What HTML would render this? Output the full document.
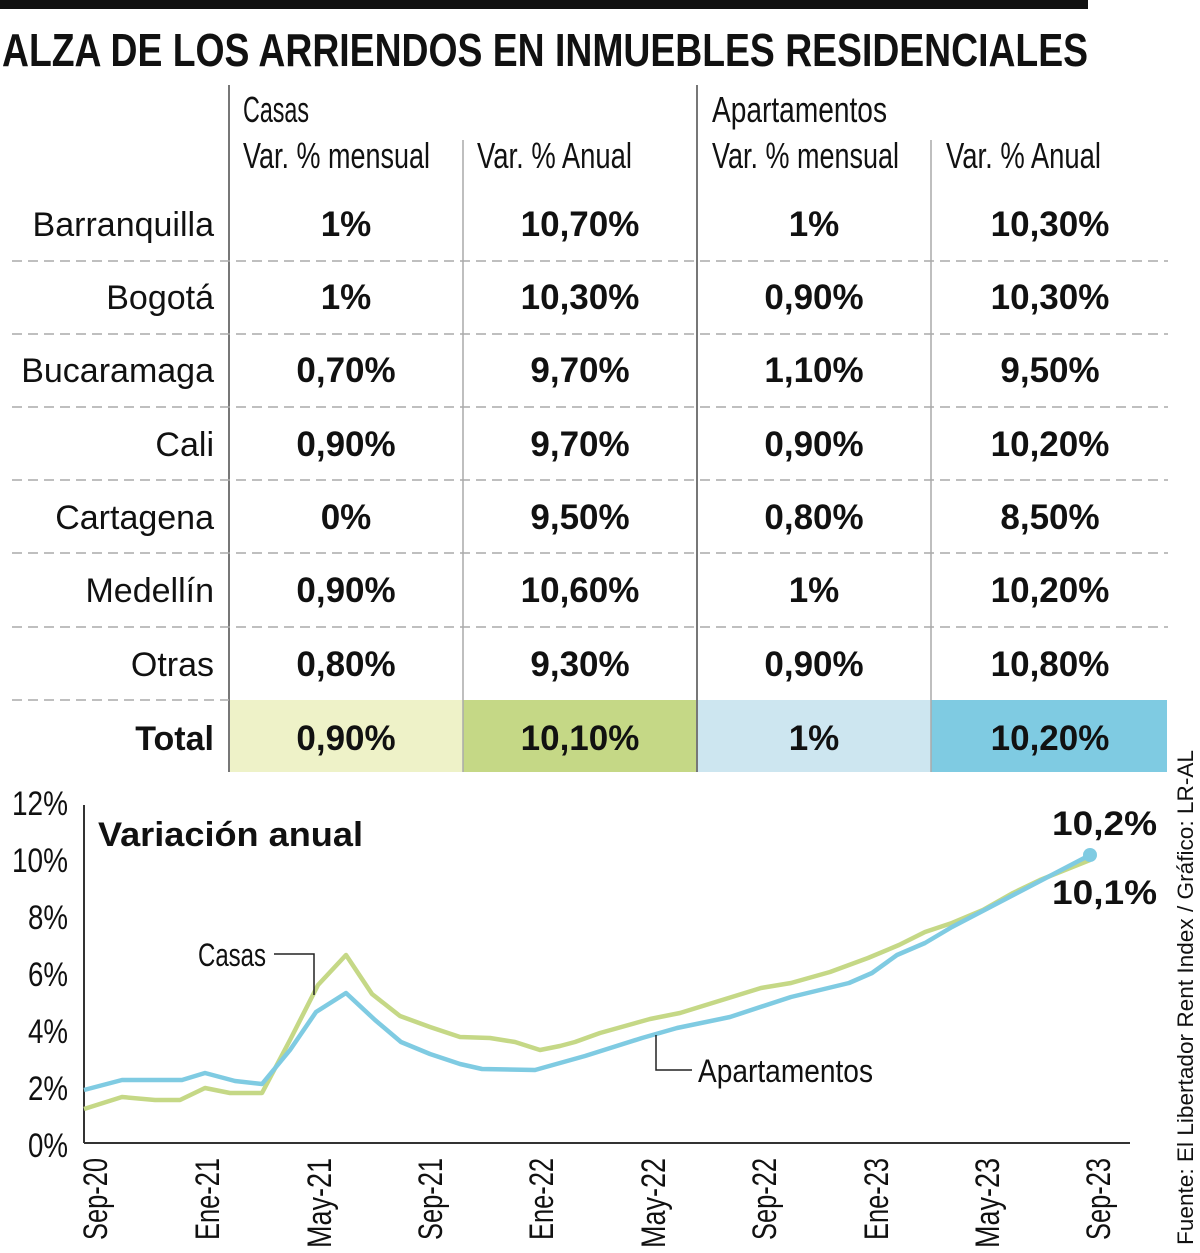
<!DOCTYPE html>
<html><head><meta charset="utf-8"><style>
html,body{margin:0;padding:0;background:#fff;}
svg{display:block;}
text{font-family:"Liberation Sans",sans-serif;fill:#111;}
.c{font-size:34px;text-anchor:end;}
.v{font-size:35px;font-weight:bold;text-anchor:middle;}
.h{font-size:36px;}
.ax{font-size:34px;}
</style></head><body>
<svg width="1200" height="1253" viewBox="0 0 1200 1253" xmlns="http://www.w3.org/2000/svg">
<rect x="0" y="0" width="1088" height="9" fill="#111"/>
<text x="2" y="66" font-size="46" font-weight="bold" textLength="1086" lengthAdjust="spacingAndGlyphs">ALZA DE LOS ARRIENDOS EN INMUEBLES RESIDENCIALES</text>

<rect x="229" y="700" width="234" height="72" fill="#eef2c8"/>
<rect x="463" y="700" width="234" height="72" fill="#c5d886"/>
<rect x="697" y="700" width="234" height="72" fill="#cde6f0"/>
<rect x="931" y="700" width="236" height="72" fill="#7fcbe2"/>

<line x1="229" y1="85" x2="229" y2="772" stroke="#777" stroke-width="2"/>
<line x1="463" y1="140" x2="463" y2="772" stroke="#aaa" stroke-width="1.5"/>
<line x1="697" y1="85" x2="697" y2="772" stroke="#777" stroke-width="2"/>
<line x1="931" y1="140" x2="931" y2="772" stroke="#aaa" stroke-width="1.5"/>

<g stroke="#aaa" stroke-width="1.5" stroke-dasharray="10,6">
<line x1="12" y1="261" x2="1168" y2="261"/>
<line x1="12" y1="334" x2="1168" y2="334"/>
<line x1="12" y1="407" x2="1168" y2="407"/>
<line x1="12" y1="480" x2="1168" y2="480"/>
<line x1="12" y1="553" x2="1168" y2="553"/>
<line x1="12" y1="627" x2="1168" y2="627"/>
<line x1="12" y1="700" x2="229" y2="700"/>
</g>

<text class="h" x="243" y="122" textLength="66" lengthAdjust="spacingAndGlyphs">Casas</text>
<text class="h" x="243" y="168" textLength="187" lengthAdjust="spacingAndGlyphs">Var. % mensual</text>
<text class="h" x="477" y="168" textLength="155" lengthAdjust="spacingAndGlyphs">Var. % Anual</text>
<text class="h" x="712" y="122" textLength="175" lengthAdjust="spacingAndGlyphs">Apartamentos</text>
<text class="h" x="712" y="168" textLength="187" lengthAdjust="spacingAndGlyphs">Var. % mensual</text>
<text class="h" x="946" y="168" textLength="155" lengthAdjust="spacingAndGlyphs">Var. % Anual</text>

<g>
<text class="c" x="214" y="236">Barranquilla</text>
<text class="v" x="346" y="236">1%</text><text class="v" x="580" y="236">10,70%</text><text class="v" x="814" y="236">1%</text><text class="v" x="1050" y="236">10,30%</text>
<text class="c" x="214" y="309">Bogotá</text>
<text class="v" x="346" y="309">1%</text><text class="v" x="580" y="309">10,30%</text><text class="v" x="814" y="309">0,90%</text><text class="v" x="1050" y="309">10,30%</text>
<text class="c" x="214" y="382">Bucaramaga</text>
<text class="v" x="346" y="382">0,70%</text><text class="v" x="580" y="382">9,70%</text><text class="v" x="814" y="382">1,10%</text><text class="v" x="1050" y="382">9,50%</text>
<text class="c" x="214" y="456">Cali</text>
<text class="v" x="346" y="456">0,90%</text><text class="v" x="580" y="456">9,70%</text><text class="v" x="814" y="456">0,90%</text><text class="v" x="1050" y="456">10,20%</text>
<text class="c" x="214" y="529">Cartagena</text>
<text class="v" x="346" y="529">0%</text><text class="v" x="580" y="529">9,50%</text><text class="v" x="814" y="529">0,80%</text><text class="v" x="1050" y="529">8,50%</text>
<text class="c" x="214" y="602">Medellín</text>
<text class="v" x="346" y="602">0,90%</text><text class="v" x="580" y="602">10,60%</text><text class="v" x="814" y="602">1%</text><text class="v" x="1050" y="602">10,20%</text>
<text class="c" x="214" y="676">Otras</text>
<text class="v" x="346" y="676">0,80%</text><text class="v" x="580" y="676">9,30%</text><text class="v" x="814" y="676">0,90%</text><text class="v" x="1050" y="676">10,80%</text>
<text class="c" x="214" y="750" font-weight="bold" font-size="35">Total</text>
<text class="v" x="346" y="750">0,90%</text><text class="v" x="580" y="750">10,10%</text><text class="v" x="814" y="750">1%</text><text class="v" x="1050" y="750">10,20%</text>
</g>

<line x1="84" y1="805" x2="84" y2="1143" stroke="#333" stroke-width="2"/>
<line x1="84" y1="1143" x2="1130" y2="1143" stroke="#333" stroke-width="2"/>
<g class="ax" text-anchor="end">
<text x="68" y="815" textLength="56" lengthAdjust="spacingAndGlyphs">12%</text>
<text x="68" y="872" textLength="56" lengthAdjust="spacingAndGlyphs">10%</text>
<text x="68" y="929" textLength="40" lengthAdjust="spacingAndGlyphs">8%</text>
<text x="68" y="986" textLength="40" lengthAdjust="spacingAndGlyphs">6%</text>
<text x="68" y="1043" textLength="40" lengthAdjust="spacingAndGlyphs">4%</text>
<text x="68" y="1100" textLength="40" lengthAdjust="spacingAndGlyphs">2%</text>
<text x="68" y="1157" textLength="40" lengthAdjust="spacingAndGlyphs">0%</text>
</g>
<g class="ax" font-size="32">
<text transform="translate(107,1240) rotate(-90)" textLength="82" lengthAdjust="spacingAndGlyphs">Sep-20</text>
<text transform="translate(219,1240) rotate(-90)" textLength="82" lengthAdjust="spacingAndGlyphs">Ene-21</text>
<text transform="translate(331,1248) rotate(-90)" textLength="90" lengthAdjust="spacingAndGlyphs">May-21</text>
<text transform="translate(442,1240) rotate(-90)" textLength="82" lengthAdjust="spacingAndGlyphs">Sep-21</text>
<text transform="translate(553,1240) rotate(-90)" textLength="82" lengthAdjust="spacingAndGlyphs">Ene-22</text>
<text transform="translate(665,1248) rotate(-90)" textLength="90" lengthAdjust="spacingAndGlyphs">May-22</text>
<text transform="translate(776,1240) rotate(-90)" textLength="82" lengthAdjust="spacingAndGlyphs">Sep-22</text>
<text transform="translate(888,1240) rotate(-90)" textLength="82" lengthAdjust="spacingAndGlyphs">Ene-23</text>
<text transform="translate(999,1248) rotate(-90)" textLength="90" lengthAdjust="spacingAndGlyphs">May-23</text>
<text transform="translate(1110,1240) rotate(-90)" textLength="82" lengthAdjust="spacingAndGlyphs">Sep-23</text>
</g>

<text x="98" y="846" font-size="34" font-weight="bold" textLength="265" lengthAdjust="spacingAndGlyphs">Variación anual</text>

<polyline fill="none" stroke="#c5d886" stroke-width="4.5" stroke-linejoin="round" points="84,1109 122,1097 155,1100 180,1100 205,1088 230,1093 262,1093 290,1040 318,985 346,955 372,994 400,1016 430,1027 460,1037 490,1038 515,1042 540,1050 560,1046 575,1042 600,1033 650,1019 680,1013 761,988 791,983 830,972 868,958 899,945 925,932 952,923 983,910 1013,893 1040,880 1090,860"/>
<polyline fill="none" stroke="#7fcbe2" stroke-width="4.5" stroke-linejoin="round" points="84,1090 122,1080 160,1080 182,1080 205,1073 235,1081 262,1084 290,1050 316,1012 346,993 375,1020 401,1042 430,1054 460,1064 482,1069 535,1070 585,1056 642,1038 677,1028 730,1017 791,997 849,983 872,973 897,955 925,943 952,927 1090,855"/>
<circle cx="1090" cy="855" r="7" fill="#7fcbe2"/>

<polyline fill="none" stroke="#222" stroke-width="1.5" points="274,954 314,954 314,995"/>
<text x="198" y="966" font-size="32" textLength="68" lengthAdjust="spacingAndGlyphs">Casas</text>
<polyline fill="none" stroke="#222" stroke-width="1.5" points="656,1035 656,1070 692,1070"/>
<text x="698" y="1082" font-size="32" textLength="175" lengthAdjust="spacingAndGlyphs">Apartamentos</text>
<text x="1052" y="835" font-size="34" font-weight="bold" textLength="105" lengthAdjust="spacingAndGlyphs">10,2%</text>
<text x="1052" y="904" font-size="34" font-weight="bold" textLength="105" lengthAdjust="spacingAndGlyphs">10,1%</text>

<text transform="translate(1193,1245) rotate(-90)" font-size="22" fill="#222" textLength="495" lengthAdjust="spacingAndGlyphs">Fuente: El Libertador Rent Index / Gráfico: LR-AL</text>
</svg>
</body></html>
